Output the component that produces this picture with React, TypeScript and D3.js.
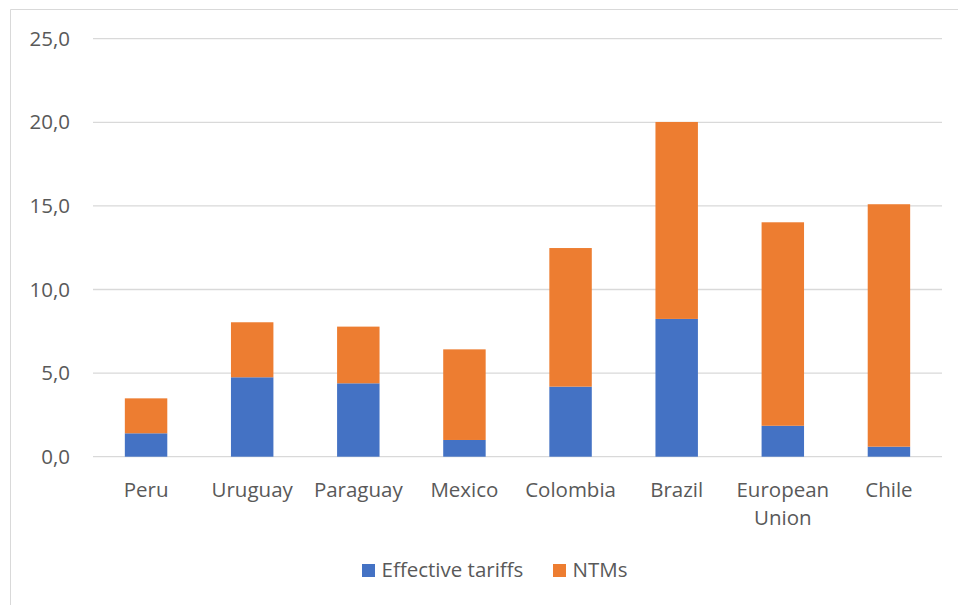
import React from "react";
import * as d3 from "d3";

const categories: string[][] = [
  ["Peru"],
  ["Uruguay"],
  ["Paraguay"],
  ["Mexico"],
  ["Colombia"],
  ["Brazil"],
  ["European", "Union"],
  ["Chile"],
];
const effectiveTariffs = [1.4, 4.75, 4.39, 1.0, 4.19, 8.24, 1.85, 0.6];
const ntms = [2.09, 3.29, 3.39, 5.42, 8.29, 11.78, 12.17, 14.5];
const yTicks = [0, 5, 10, 15, 20, 25];
const seriesNames = ["Effective tariffs", "NTMs"];
const colors = ["#4472C4", "#ED7D31"];

const W = 958;
const H = 605;
const FONT = "'Open Sans', sans-serif";
const TEXT = "#595959";
const FS = 20.5;

export default function App() {
  const keys = categories.map((c) => c.join(" "));
  const x = d3.scaleBand<string>().domain(keys).range([93, 942]).paddingInner(0.6).paddingOuter(0.3);
  const y = d3.scaleLinear().domain([0, 25]).range([456.7, 38.7]);
  const rows = keys.map((k, i) => ({ key: k, tariff: effectiveTariffs[i], ntm: ntms[i] }));
  const stack = d3.stack<any>().keys(["tariff", "ntm"])(rows);
  const fmt = (v: number) => v.toFixed(1).replace(".", ",");

  return (
    <svg
      width={W}
      height={H}
      style={{ position: "absolute", left: 0, top: 0, background: "#fff" }}
      fontFamily={FONT}
    >
      <line x1={10.5} x2={W} y1={9.5} y2={9.5} stroke="#d9d9d9" strokeWidth={1} />
      <line x1={10.5} x2={10.5} y1={9.5} y2={H} stroke="#d9d9d9" strokeWidth={1} />
      {yTicks.map((t) => (
        <g key={t}>
          <line x1={93} x2={942} y1={y(t)} y2={y(t)} stroke="#d9d9d9" strokeWidth={1.3} />
          <text x={70} y={y(t)} dy="0.35em" textAnchor="end" fontSize={FS} fill={TEXT}>
            {fmt(t)}
          </text>
        </g>
      ))}
      {stack.map((s, si) =>
        s.map((d, i) => (
          <rect
            key={si + "-" + i}
            x={x(keys[i])}
            width={x.bandwidth()}
            y={y(d[1])}
            height={y(d[0]) - y(d[1])}
            fill={colors[si]}
          />
        ))
      )}
      {categories.map((c, i) => (
        <text
          key={keys[i]}
          x={(x(keys[i]) as number) + x.bandwidth() / 2}
          y={496.5}
          textAnchor="middle"
          fontSize={FS}
          fill={TEXT}
        >
          {c.map((line, li) => (
            <tspan key={li} x={(x(keys[i]) as number) + x.bandwidth() / 2} dy={li === 0 ? 0 : 28.5}>
              {line}
            </tspan>
          ))}
        </text>
      ))}
      {seriesNames.map((n, i) => {
        const lx = [362, 553][i];
        return (
          <g key={n}>
            <rect x={lx} y={564} width={13} height={13} fill={colors[i]} />
            <text x={lx + 19.5} y={577} fontSize={FS} fill={TEXT}>
              {n}
            </text>
          </g>
        );
      })}
    </svg>
  );
}
